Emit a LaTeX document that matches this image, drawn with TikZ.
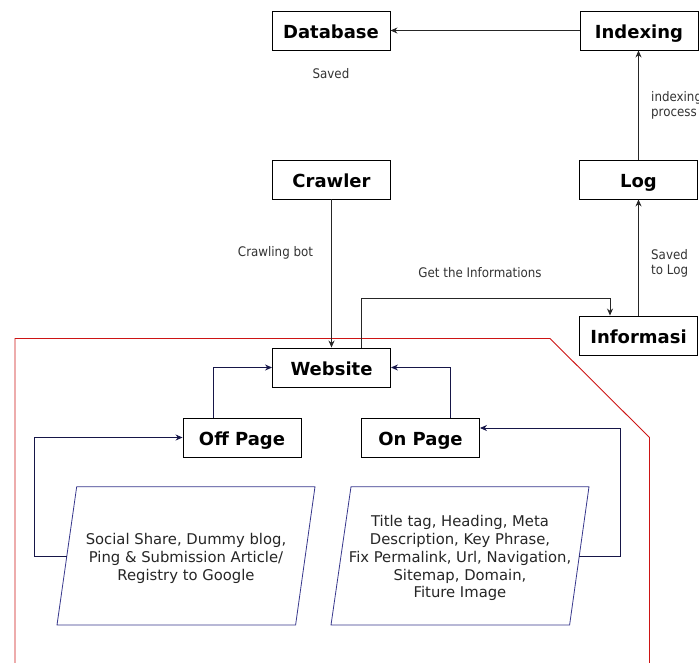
\documentclass[tikz,border=0pt]{standalone}
\usepackage{fontspec}
\setmainfont{DejaVu Sans}
\newfontfamily\condfont{DejaVu Sans Condensed}
\usetikzlibrary{arrows.meta}
\definecolor{navyline}{RGB}{22,22,72}
\definecolor{pgline}{RGB}{55,55,140}
\definecolor{zone}{RGB}{205,20,20}
\begin{document}
\begin{tikzpicture}[x=1pt,y=-1pt,
  box/.style={draw=black, line width=0.9pt, fill=white, minimum width=118pt,
    minimum height=39pt, inner sep=0pt, text height=15.5pt, text depth=0.5pt,
    font=\fontsize{18}{20}\selectfont\bfseries},
  lbl/.style={font=\condfont\fontsize{13.2}{15}\selectfont, text=black!80,
    align=left, inner sep=0pt},
  ptext/.style={font=\fontsize{14.8}{17.7}\selectfont, text=black!85,
    align=center, inner sep=0pt},
  flow/.style={draw=black!85, line width=0.9pt, -{Stealth[length=7pt,width=6pt]}},
  innerflow/.style={draw=navyline, line width=0.9pt, -{Stealth[length=7pt,width=6pt]}},
  pgram/.style={draw=pgline, line width=0.8pt, fill=white}
]
\useasboundingbox (0,0) rectangle (699,662);

% SEO zone outline
\draw[zone, line width=0.9pt] (15,670) -- (15,338.5) -- (550,338.5) -- (649.5,437.5) -- (649.5,670);

% main boxes
\node[box] (db)   at (331,30.5)    {Database};
\node[box] (idx)  at (639,30.5)    {Indexing};
\node[box] (crw)  at (331.5,179.5) {Crawler};
\node[box] (log)  at (638.5,179.5) {Log};
\node[box] (inf)  at (638.5,335.5) {Informasi};
\node[box] (web)  at (331.5,367.5) {Website};
\node[box] (off)  at (242,437.5)   {Off Page};
\node[box] (on)   at (420.5,437.5) {On Page};

% factor parallelograms
\draw[pgram] (76.7,486.7) -- (315,486.7) -- (295.6,625) -- (57,625) -- cycle;
\draw[pgram] (351,486.7) -- (589,486.7) -- (569.6,625) -- (331,625) -- cycle;
\node[ptext] (offtxt) at (186,558.3) {Social Share, Dummy blog,\\Ping \& Submission Article/\\Registry to Google};
\node[ptext] (ontxt) at (460,558.3) {Title tag, Heading, Meta\\Description, Key Phrase,\\Fix Permalink, Url, Navigation,\\Sitemap, Domain,\\Fiture Image};
\coordinate (pl) at (66.9,556);
\coordinate (pr) at (579.2,556);

% top flow
\draw[flow] (idx.west) -- (db.east);
\draw[flow] (log.north) -- (log.north |- idx.south);
\draw[flow] (inf.north) -- (log.south);
\draw[flow] (crw.south) -- (web.north);
\draw[flow] ([xshift=30pt]web.north) -- ++(0,-49) -| ([xshift=-28.5pt]inf.north);

% inner flow
\draw[innerflow] ([xshift=-29pt]off.north) |- (web.west);
\draw[innerflow] ([xshift=29.5pt]on.north) |- (web.east);
\draw[innerflow] (pl) -- ++(-32,0) |- (off.west);
\draw[innerflow] (pr) -- ++(41,0) |- ([yshift=9.5pt]on.east);

% labels
\node[lbl] (l1) at (331,74) {Saved};
\node[lbl, anchor=west] (l2) at (651,105.5) {indexing\\process};
\node[lbl] (l3) at (275.5,253) {Crawling bot};
\node[lbl] (l4) at (480,273) {Get the Informations};
\node[lbl, anchor=west] (l5) at (651,263.5) {Saved\\to Log};
\end{tikzpicture}
\end{document}
